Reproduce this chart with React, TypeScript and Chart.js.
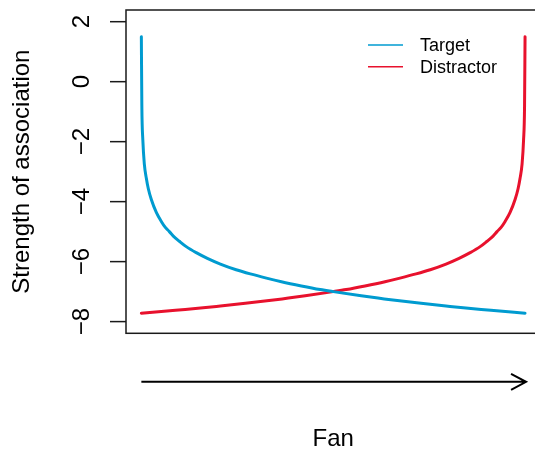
import React, { useEffect, useRef } from "react";
import { Chart, registerables } from "chart.js";

Chart.register(...registerables);

// Fan position (percent of the fan range) and association strength, Target cue
const targetFan = [0, 0.13, 0.39, 0.78, 1.3, 1.82, 2.6, 3.9, 5.2, 6.25, 7.3, 8.33, 9.9, 11.7, 14.3, 17.2, 20.6, 24.7, 28.4, 32.6, 36.5, 41.7, 46.6, 50, 57.3, 62.5, 66.7, 72.9, 79.4, 83.9, 91.1, 100];
const targetStrength = [1.5, -0.8, -1.95, -2.75, -3.22, -3.57, -3.93, -4.36, -4.66, -4.86, -5.0, -5.15, -5.32, -5.5, -5.7, -5.89, -6.08, -6.27, -6.41, -6.55, -6.67, -6.81, -6.93, -7.0, -7.14, -7.23, -7.3, -7.39, -7.48, -7.54, -7.62, -7.72];

// Same for the Distractor cue
const distractorFan = [0, 8.9, 16.1, 20.6, 27.1, 33.3, 37.5, 42.7, 50, 53.4, 58.3, 63.5, 67.4, 71.6, 75.3, 79.4, 82.8, 85.7, 88.3, 90.1, 91.67, 92.7, 93.75, 94.8, 96.1, 97.4, 98.18, 98.7, 99.22, 99.61, 99.87, 100];
const distractorStrength = [-7.72, -7.62, -7.54, -7.48, -7.39, -7.3, -7.23, -7.14, -7.0, -6.93, -6.81, -6.67, -6.55, -6.41, -6.27, -6.08, -5.89, -5.7, -5.5, -5.32, -5.15, -5.0, -4.86, -4.66, -4.36, -3.93, -3.57, -3.22, -2.75, -1.95, -0.8, 1.5];

const yTickValues = [2, 0, -2, -4, -6, -8];
const yTickLabels = ["2", "0", "\u22122", "\u22124", "\u22126", "\u22128"];

const seriesNames = ["Target", "Distractor"];
const seriesColors = ["#009BD0", "#E8112D"];

const FONT = '"Liberation Sans", Arial, Helvetica, sans-serif';

const toPoints = (xs: number[], ys: number[]) => xs.map((x, i) => ({ x, y: ys[i] }));

// Base-graphics style decorations: box, y ticks, titles, fan arrow, inset legend
const decorations = {
  id: "decorations",
  afterDraw(chart: any) {
    const ctx = chart.ctx as CanvasRenderingContext2D;
    const { left, top, right, bottom } = chart.chartArea;
    const xs = chart.scales.x;
    const ys = chart.scales.y;
    ctx.save();

    // plot box
    ctx.strokeStyle = "#1a1a1a";
    ctx.lineWidth = 1.5;
    ctx.strokeRect(left, top, right - left, bottom - top);

    // y ticks and rotated labels
    ctx.fillStyle = "#000";
    ctx.font = `24px ${FONT}`;
    ctx.textAlign = "center";
    ctx.textBaseline = "middle";
    yTickValues.forEach((v, i) => {
      const py = ys.getPixelForValue(v);
      ctx.beginPath();
      ctx.moveTo(left - 16, py);
      ctx.lineTo(left, py);
      ctx.stroke();
      ctx.save();
      ctx.translate(left - 43.5, py);
      ctx.rotate(-Math.PI / 2);
      ctx.fillText(yTickLabels[i], 0, 0);
      ctx.restore();
    });

    // y axis title
    ctx.save();
    ctx.translate(22, (top + bottom) / 2);
    ctx.rotate(-Math.PI / 2);
    ctx.fillText("Strength of association", 0, 0);
    ctx.restore();

    // fan direction arrow
    const ax0 = xs.getPixelForValue(0);
    const ax1 = xs.getPixelForValue(100) + 1;
    const ay = bottom + 48.5;
    ctx.strokeStyle = "#000";
    ctx.lineWidth = 2;
    ctx.beginPath();
    ctx.moveTo(ax0, ay);
    ctx.lineTo(ax1, ay);
    ctx.moveTo(ax1 - 15, ay - 8);
    ctx.lineTo(ax1, ay);
    ctx.lineTo(ax1 - 15, ay + 8);
    ctx.stroke();

    // x axis title
    ctx.fillText("Fan", (left + right) / 2, 439);

    // legend
    ctx.font = `18px ${FONT}`;
    ctx.textAlign = "left";
    ctx.lineWidth = 1.6;
    seriesNames.forEach((name, i) => {
      const ly = 45 + i * 21.7;
      ctx.strokeStyle = seriesColors[i];
      ctx.beginPath();
      ctx.moveTo(368, ly);
      ctx.lineTo(403, ly);
      ctx.stroke();
      ctx.fillText(name, 420, ly + 1);
    });

    ctx.restore();
  },
};

export default function App() {
  const canvasRef = useRef<HTMLCanvasElement | null>(null);

  useEffect(() => {
    if (!canvasRef.current) return;
    const chart = new Chart(canvasRef.current, {
      type: "line",
      data: {
        datasets: [
          {
            label: seriesNames[0],
            data: toPoints(targetFan, targetStrength),
            borderColor: seriesColors[0],
            borderWidth: 3,
            borderCapStyle: "round",
            borderJoinStyle: "round",
            pointRadius: 0,
            cubicInterpolationMode: "monotone",
          },
          {
            label: seriesNames[1],
            data: toPoints(distractorFan, distractorStrength),
            borderColor: seriesColors[1],
            borderWidth: 3,
            borderCapStyle: "round",
            borderJoinStyle: "round",
            pointRadius: 0,
            cubicInterpolationMode: "monotone",
          },
        ],
      },
      options: {
        responsive: false,
        animation: false,
        layout: { padding: { left: 126, top: 10, right: 19.6, bottom: 116.7 } },
        scales: {
          x: { type: "linear", min: -4, max: 104, display: false },
          y: { type: "linear", min: -8.39, max: 2.39, display: false },
        },
        plugins: {
          legend: { display: false },
          tooltip: { enabled: false },
        },
      },
      plugins: [decorations],
    });
    return () => chart.destroy();
  }, []);

  return (
    <div
      style={{
        position: "fixed",
        left: 0,
        top: 0,
        width: 535,
        height: 450,
        overflow: "hidden",
        background: "#fff",
      }}
    >
      <canvas ref={canvasRef} width={560} height={450} style={{ display: "block" }} />
    </div>
  );
}
